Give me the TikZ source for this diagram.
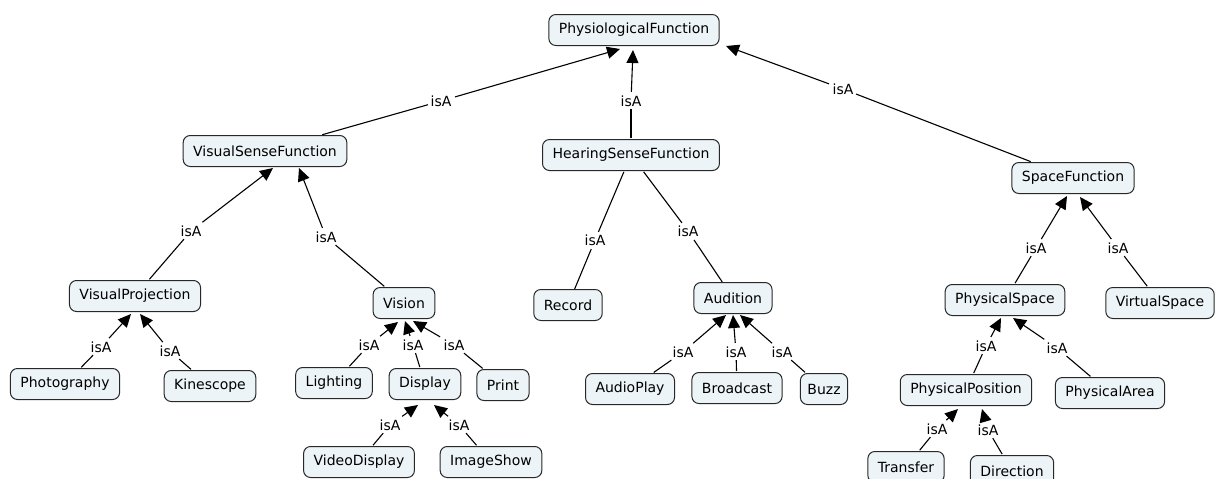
\documentclass[tikz,border=0pt]{standalone}
\usepackage{fontspec}
\setmainfont{DejaVu Sans}
\usetikzlibrary{arrows.meta}
\definecolor{cfill}{RGB}{236,244,247}
\definecolor{cline}{RGB}{40,40,40}
\tikzset{
  concept/.style={draw=cline, fill=cfill, rounded corners=7pt, line width=1pt,
    minimum height=31pt, inner xsep=10pt, font=\fontsize{14}{16}\selectfont},
  rel/.style={inner sep=2.5pt, font=\fontsize{14}{16}\selectfont},
  link/.style={draw=black, line width=1.1pt, shorten <=1pt},
  arr/.style={link, -{Triangle[length=13pt,width=12pt]}},
}
\begin{document}
\begin{tikzpicture}[x=1pt,y=-1pt]
\useasboundingbox (0,0) rectangle (1215,479);
% concepts
\node[concept] (pf)   at (634,30)  {PhysiologicalFunction};
\node[concept] (vsf)  at (265,151) {VisualSenseFunction};
\node[concept] (hsf)  at (631,155) {HearingSenseFunction};
\node[concept] (sf)   at (1073,178) {SpaceFunction};
\node[concept] (vp)   at (135,296) {VisualProjection};
\node[concept] (vis)  at (404,303) {Vision};
\node[concept] (rec)  at (568,305) {Record};
\node[concept] (aud)  at (733,298) {Audition};
\node[concept] (ps)   at (1005,300) {PhysicalSpace};
\node[concept] (vs)   at (1160,303) {VirtualSpace};
\node[concept] (pho)  at (65,384)  {Photography};
\node[concept] (kin)  at (210,386) {Kinescope};
\node[concept] (lig)  at (334,383) {Lighting};
\node[concept] (dis)  at (425,384) {Display};
\node[concept] (pri)  at (503,385) {Print};
\node[concept] (vd)   at (359,462) {VideoDisplay};
\node[concept] (ims)  at (491,462) {ImageShow};
\node[concept] (ap)   at (630,389) {AudioPlay};
\node[concept] (bro)  at (737,388) {Broadcast};
\node[concept,inner xsep=7pt] (buz) at (824,389) {Buzz};
\node[concept] (ppo)  at (966,390) {PhysicalPosition};
\node[concept] (par)  at (1110,393) {PhysicalArea};
\node[concept] (tra)  at (906,467) {Transfer};
\node[concept] (dir)  at (1012,471) {Direction};

% link labels
\node[rel] (l1)  at (441,101) {isA};
\node[rel] (l2)  at (631,101) {isA};
\node[rel] (l3)  at (843,89)  {isA};
\node[rel] (l4)  at (191,231) {isA};
\node[rel] (l5)  at (326,237) {isA};
\node[rel] (l6)  at (595,240) {isA};
\node[rel] (l7)  at (688,231) {isA};
\node[rel] (l8)  at (1036,248) {isA};
\node[rel] (l9)  at (1118,248) {isA};
\node[rel] (l10) at (101,347) {isA};
\node[rel] (l11) at (170,351) {isA};
\node[rel] (l12) at (369,345) {isA};
\node[rel] (l13) at (413,345) {isA};
\node[rel] (l14) at (454,345) {isA};
\node[rel] (l15) at (390,425) {isA};
\node[rel] (l16) at (459,425) {isA};
\node[rel] (l17) at (683,352) {isA};
\node[rel] (l18) at (736,352) {isA};
\node[rel] (l19) at (782,352) {isA};
\node[rel] (l20) at (986,346) {isA};
\node[rel] (l21) at (1057,348) {isA};
\node[rel] (l22) at (937,429) {isA};
\node[rel] (l23) at (988,430) {isA};

% arrow tips below each parent
\coordinate (t1)  at (620,49);
\coordinate (t2)  at (633,50);
\coordinate (t3)  at (726,46);
\coordinate (t4)  at (273,168);
\coordinate (t5)  at (299,168);
\coordinate (t8)  at (1067,196);
\coordinate (t9)  at (1080,197);
\coordinate (t10) at (131,314);
\coordinate (t11) at (140,314);
\coordinate (t12) at (398,322);
\coordinate (t13) at (405,321);
\coordinate (t14) at (413,321);
\coordinate (t15) at (418,405);
\coordinate (t16) at (434,405);
\coordinate (t17) at (726,315);
\coordinate (t18) at (733,315);
\coordinate (t19) at (740,315);
\coordinate (t20) at (1001,318);
\coordinate (t21) at (1013,318);
\coordinate (t22) at (958,409);
\coordinate (t23) at (982,409);

% isA links
\draw[link] (vsf) -- (l1);  \draw[arr] (l1) -- (t1);
\draw[link] (hsf) -- (l2);  \draw[arr] (l2) -- (t2);
\draw[link] (sf)  -- (l3);  \draw[arr] (l3) -- (t3);
\draw[link] (vp)  -- (l4);  \draw[arr] (l4) -- (t4);
\draw[link] (vis) -- (l5);  \draw[arr] (l5) -- (t5);
\draw[link] (hsf) -- (l6);  \draw[link] (l6) -- (rec);
\draw[link] (hsf) -- (l7);  \draw[link] (l7) -- (aud);
\draw[link] (ps)  -- (l8);  \draw[arr] (l8) -- (t8);
\draw[link] (vs)  -- (l9);  \draw[arr] (l9) -- (t9);
\draw[link] (pho) -- (l10); \draw[arr] (l10) -- (t10);
\draw[link] (kin) -- (l11); \draw[arr] (l11) -- (t11);
\draw[link] (lig) -- (l12); \draw[arr] (l12) -- (t12);
\draw[link] (dis) -- (l13); \draw[arr] (l13) -- (t13);
\draw[link] (pri) -- (l14); \draw[arr] (l14) -- (t14);
\draw[link] (vd)  -- (l15); \draw[arr] (l15) -- (t15);
\draw[link] (ims) -- (l16); \draw[arr] (l16) -- (t16);
\draw[link] (ap)  -- (l17); \draw[arr] (l17) -- (t17);
\draw[link] (bro) -- (l18); \draw[arr] (l18) -- (t18);
\draw[link] (buz) -- (l19); \draw[arr] (l19) -- (t19);
\draw[link] (ppo) -- (l20); \draw[arr] (l20) -- (t20);
\draw[link] (par) -- (l21); \draw[arr] (l21) -- (t21);
\draw[link] (tra) -- (l22); \draw[arr] (l22) -- (t22);
\draw[link] (dir) -- (l23); \draw[arr] (l23) -- (t23);
\end{tikzpicture}
\end{document}
